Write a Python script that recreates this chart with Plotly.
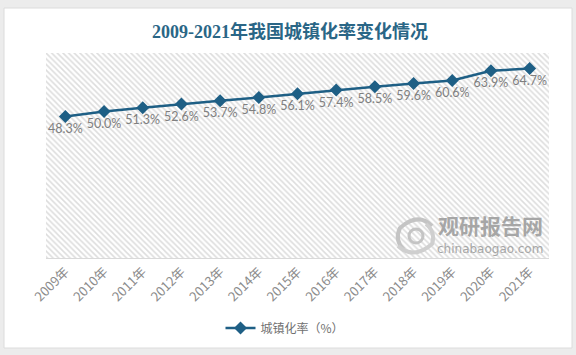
import plotly.graph_objects as go

years = ["2009年", "2010年", "2011年", "2012年", "2013年", "2014年", "2015年",
         "2016年", "2017年", "2018年", "2019年", "2020年", "2021年"]
rates = [48.3, 50.0, 51.3, 52.6, 53.7, 54.8, 56.1, 57.4, 58.5, 59.6, 60.6, 63.9, 64.7]
labels = [f"{v:.1f}%" for v in rates]
y_max = 70

W, H = 576, 355
L, R, T, B = 46, 27, 53, 97
pw, ph = W - L - R, H - T - B

def px_x(p):
    return (p - L) / pw

def px_y(p):
    return (H - B - p) / ph

xs = list(range(len(years)))

fig = go.Figure()

# hatched background
fig.add_trace(go.Bar(
    x=xs, y=[y_max] * len(xs), width=1,
    marker=dict(color="rgba(0,0,0,0)", line=dict(width=0),
                pattern=dict(shape="\\", fgcolor="#bcbcbc", bgcolor="white",
                             size=4, solidity=0.4)),
    showlegend=False, hoverinfo="skip",
))

fig.add_trace(go.Scatter(
    x=xs, y=rates, mode="lines+markers+text",
    name="城镇化率（%）",
    line=dict(color="#1e5f85", width=2.5),
    marker=dict(symbol="diamond", size=10, color="#1e5f85"),
    text=labels, textposition="bottom center",
    textfont=dict(family="Lato, Noto Sans CJK SC", size=12.5, color="#7f7f7f"),
))

# card background
fig.add_shape(type="rect", xref="paper", yref="paper", layer="below",
              x0=px_x(4), x1=px_x(572), y0=px_y(348), y1=px_y(8),
              fillcolor="white", line=dict(color="#dcdcdc", width=1))

# watermark
fig.add_annotation(xref="paper", yref="paper", x=px_x(490), y=px_y(225),
                   xanchor="center", yanchor="middle",
                   text="<b>观研报告网</b>", showarrow=False,
                   font=dict(family="Noto Sans CJK SC", size=21, color="#a6a6a6"))
fig.add_annotation(xref="paper", yref="paper", x=px_x(490), y=px_y(249),
                   xanchor="center", yanchor="middle",
                   text="chinabaogao.com", showarrow=False,
                   font=dict(family="DejaVu Sans", size=12, color="#a6a6a6"))
fig.add_shape(type="path", xref="paper", yref="paper",
              path=(f"M {px_x(432)},{px_y(226)} Q {px_x(418)},{px_y(212)} {px_x(400)},{px_y(228)} "
                    f"Q {px_x(394)},{px_y(240)} {px_x(404)},{px_y(250)}"),
              line=dict(color="#c4c4c4", width=4))
fig.add_shape(type="path", xref="paper", yref="paper",
              path=(f"M {px_x(398)},{px_y(246)} Q {px_x(414)},{px_y(260)} {px_x(432)},{px_y(244)} "
                    f"Q {px_x(436)},{px_y(232)} {px_x(426)},{px_y(224)}"),
              line=dict(color="#cfcfcf", width=4))
fig.add_shape(type="circle", xref="paper", yref="paper",
              x0=px_x(409), x1=px_x(423), y0=px_y(243), y1=px_y(229),
              line=dict(color="#c4c4c4", width=3))

fig.update_layout(
    width=W, height=H,
    margin=dict(l=L, r=R, t=T, b=B),
    paper_bgcolor="#ececec",
    plot_bgcolor="white",
    barmode="overlay",
    bargap=0,
    title=dict(text="<b>2009-2021年我国城镇化率变化情况</b>",
               x=px_x(290), xref="paper", xanchor="center",
               y=1 - 32 / H, yanchor="middle",
               font=dict(family="Liberation Serif, Noto Sans CJK SC", size=18, color="#2a6686")),
    showlegend=True,
    legend=dict(orientation="h", x=px_x(285), xanchor="center", y=px_y(328), yanchor="middle",
                font=dict(family="Noto Sans CJK SC", size=12, color="#707070"),
                bgcolor="rgba(0,0,0,0)"),
    xaxis=dict(
        tickmode="array", tickvals=xs, ticktext=years,
        range=[-0.5, len(xs) - 0.5],
        tickangle=-45, ticks="", showgrid=False, zeroline=False,
        showline=True, linecolor="#d9d9d9", linewidth=1,
        tickfont=dict(family="Noto Sans CJK SC", size=13, color="#8c8c8c"),
        minor=dict(tickvals=[i - 0.5 for i in range(len(xs) + 1)], showgrid=True,
                   gridcolor="#dadada", gridwidth=1, ticks=""),
    ),
    yaxis=dict(range=[0, y_max], showticklabels=False, showgrid=False,
               zeroline=False, showline=False, ticks=""),
)

fig.write_html("out.html", config={"displayModeBar": False},
               post_script="document.body.style.margin='0';document.body.style.overflow='hidden';")
